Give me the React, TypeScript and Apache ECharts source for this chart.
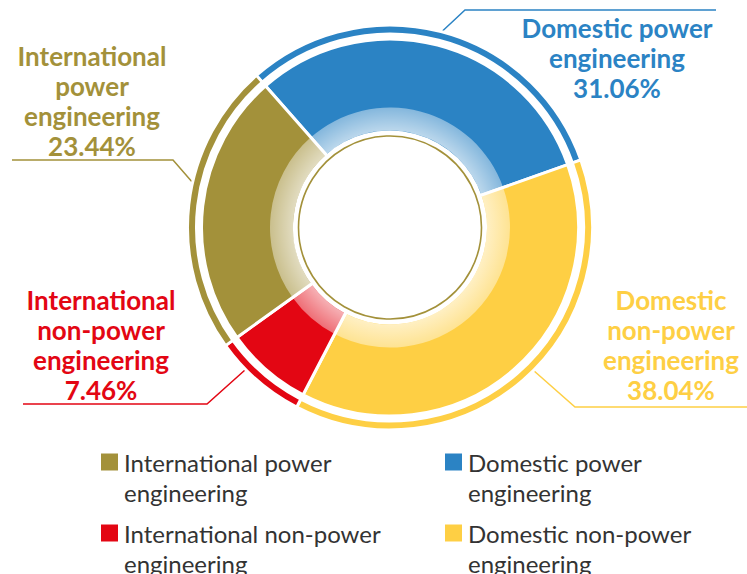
import React, { useEffect, useRef } from "react";
import * as echarts from "echarts";

// ---- data ----
const categories = [
  "International power engineering",
  "Domestic power engineering",
  "International non-power engineering",
  "Domestic non-power engineering",
];
const shares = [23.44, 31.06, 7.46, 38.04];
const labelNames = [
  "International\npower\nengineering",
  "Domestic power\nengineering",
  "International\nnon-power\nengineering",
  "Domestic\nnon-power\nengineering",
];
const legendNames = [
  "International power\nengineering",
  "Domestic power\nengineering",
  "International non-power\nengineering",
  "Domestic non-power\nengineering",
];
// clockwise drawing order starting at the top-left boundary
const drawOrder = [1, 3, 2, 0];

// ---- styles / layout ----
const colors = ["#a3913a", "#2b83c4", "#e30613", "#fecf44"];
const CX = 390;
const CY = 227.5;
const labelPos: number[][] = [
  [92, 41],
  [617, 13],
  [101, 285],
  [671, 285],
];
const leaderPts: number[][][] = [
  [[193, 183], [173, 160], [12, 160]],
  [[441.7, 31.7], [465, 10], [716, 10]],
  [[245, 370], [207, 404], [23, 404]],
  [[533, 370], [575, 407], [747, 407]],
];

export default function App() {
  const ref = useRef<HTMLDivElement>(null);
  useEffect(() => {
    if (!ref.current) return;
    const chart = echarts.init(ref.current, undefined, { renderer: "svg" });
    const seriesData = drawOrder.map((c) => ({
      name: categories[c],
      value: shares[c],
      itemStyle: { color: colors[c] },
      label: { color: colors[c] },
      labelLine: { lineStyle: { color: colors[c], width: 1.5 } },
    }));
    const plainData = drawOrder.map((c) => ({
      name: categories[c],
      value: shares[c],
      itemStyle: { color: colors[c] },
    }));
    const bandFill = {
      type: "radial",
      x: CX,
      y: CY,
      r: 120,
      global: true,
      colorStops: [
        { offset: 0, color: "rgba(255,255,255,0.68)" },
        { offset: 97 / 120, color: "rgba(255,255,255,0.68)" },
        { offset: 1, color: "rgba(255,255,255,0.42)" },
      ],
    };
    const legendCommon = {
      orient: "vertical",
      top: 447,
      height: 160,
      width: 330,
      padding: 0,
      itemGap: 11,
      itemWidth: 19,
      itemHeight: 49,
      icon: "path://M0,0H19V19H0Z M0,49L0,49",
      selectedMode: false,
      formatter: (n: string) => legendNames[categories.indexOf(n)],
      textStyle: {
        fontFamily: "Lato",
        fontSize: 24,
        color: "#333333",
        lineHeight: 30,
      },
    };
    chart.setOption({
      animation: false,
      backgroundColor: "#ffffff",
      legend: [
        {
          ...legendCommon,
          left: 99,
          data: [0, 2].map((i) => ({ name: categories[i], itemStyle: { color: colors[i] } })),
        },
        {
          ...legendCommon,
          left: 443,
          data: [1, 3].map((i) => ({ name: categories[i], itemStyle: { color: colors[i] } })),
        },
      ],
      graphic: [
        {
          type: "circle",
          shape: { cx: CX, cy: CY, r: 91.5 },
          style: { fill: "none", stroke: colors[0], lineWidth: 1.6 },
          silent: true,
        },
      ],
      series: [
        {
          type: "pie",
          center: [CX, CY],
          radius: [193.5, 202.5],
          startAngle: 131.3,
          clockwise: true,
          silent: true,
          label: { show: false },
          labelLine: { show: false },
          itemStyle: { borderColor: "#ffffff", borderWidth: 3 },
          data: plainData,
        },
        {
          type: "pie",
          center: [CX, CY],
          radius: [95.5, 188.5],
          startAngle: 131.3,
          clockwise: true,
          silent: true,
          avoidLabelOverlap: false,
          itemStyle: { borderColor: "#ffffff", borderWidth: 3 },
          label: {
            show: true,
            position: "outside",
            fontFamily: "Lato",
            fontWeight: "bold",
            fontSize: 26,
            lineHeight: 30,
            align: "center",
            formatter: (p: any) => {
              const c = drawOrder[p.dataIndex];
              return labelNames[c] + "\n" + shares[c].toFixed(2) + "%";
            },
          },
          labelLine: { show: true, length: 10, length2: 10 },
          labelLayout: (p: any) => {
            const c = drawOrder[p.dataIndex];
            return {
              x: labelPos[c][0],
              y: labelPos[c][1],
              align: "center",
              verticalAlign: "top",
              labelLinePoints: leaderPts[c],
            };
          },
          data: seriesData,
        },
        {
          type: "pie",
          center: [CX, CY],
          radius: [97, 120],
          startAngle: 131.3,
          clockwise: true,
          silent: true,
          label: { show: false },
          labelLine: { show: false },
          itemStyle: { color: bandFill as any },
          data: drawOrder.map((c) => ({ name: categories[c], value: shares[c], itemStyle: { color: bandFill as any } })),
        },
      ],
    } as any);
    return () => chart.dispose();
  }, []);
  return (
    <div
      ref={ref}
      style={{ position: "fixed", left: 0, top: 0, width: 747, height: 574 }}
    />
  );
}
